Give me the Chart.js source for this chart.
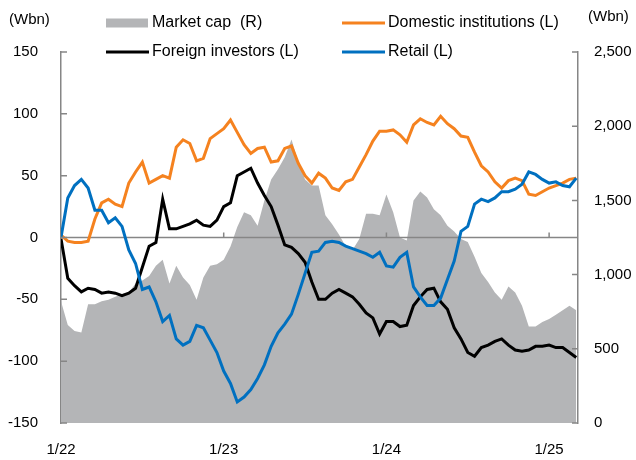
<!DOCTYPE html>
<html>
<head>
<meta charset="utf-8">
<script src="https://cdn.jsdelivr.net/npm/chart.js@4/dist/chart.umd.min.js"></script>
<style>
  body { margin: 0; background: #fff; }
  #wrap { width: 636px; height: 460px; }
</style>
</head>
<body>
<div id="wrap"><canvas id="chart" width="636" height="460"></canvas></div>
<script>
// Semi-monthly observations, Jan 2022 - Mar 2025 (1st and 16th of each month)
const dates = [];
for (let y = 2022; y <= 2025; y++) {
    for (let m = 1; m <= 12; m++) {
        if (y === 2025 && m > 3) break;
        dates.push(`${y}-${String(m).padStart(2, '0')}-01`);
        if (!(y === 2025 && m === 3)) dates.push(`${y}-${String(m).padStart(2, '0')}-16`);
    }
}

const xTickMonths = [0, 12, 24, 36];
const xTickLabels = ['1/22', '1/23', '1/24', '1/25'];

// Market cap (Wbn, right axis)
const marketCap = [
    820, 660, 620, 610, 800, 800, 820, 830, 850, 870, 880, 940,
    960, 990, 1060, 1100, 940, 1060, 980, 930, 830, 980, 1060, 1070,
    1100, 1190, 1320, 1420, 1400, 1330, 1500, 1640, 1710, 1790, 1910, 1760,
    1640, 1600, 1600, 1400, 1340, 1270, 1190, 1166, 1240, 1410, 1410, 1400,
    1540, 1420, 1250, 1230, 1500, 1560, 1520, 1440, 1400, 1330, 1290, 1240,
    1220, 1120, 1010, 950, 880, 830, 920, 880, 790, 650, 650, 680,
    700, 730, 760, 790, 760
];

// Net buying, cumulative (Wbn, left axis)
const domestic = [
    2, -3, -4, -4, -3, 15, 28, 31, 27, 25, 44, 53,
    61, 44, 47, 50, 48, 73, 79, 76, 62, 64, 80, 84,
    88, 95, 85, 75, 68, 72, 73, 61, 62, 72, 74, 60,
    50, 44, 52, 48, 40, 38, 45, 47, 57, 67, 78, 86,
    86, 87, 83, 77, 91, 96, 93, 91, 98, 92, 88, 82,
    81, 69, 58, 53, 45, 40, 46, 48, 46, 35, 34, 37,
    40, 42, 44, 47, 48
];

const foreign = [
    -1, -33, -39, -44, -41, -42, -45, -44, -45, -47, -45, -41,
    -24, -7, -4, 31, 7, 7, 9, 11, 14, 10, 9, 14,
    25, 28, 50, 53, 56, 44, 34, 25, 10, -6, -8, -13,
    -20, -36, -50, -50, -45, -42, -45, -48, -54, -61, -65, -78,
    -68, -68, -72, -71, -55, -48, -42, -41, -52, -58, -73, -82,
    -93, -96, -89, -87, -84, -82, -87, -91, -92, -91, -88, -88,
    -87, -89, -89, -93, -97
];

const retail = [
    0, 32, 42, 47, 40, 22, 22, 12, 16, 9, -10, -21,
    -42, -40, -52, -68, -63, -82, -87, -84, -71, -73, -83, -93,
    -108, -118, -133, -129, -123, -114, -103, -88, -77, -70, -62, -46,
    -29, -12, -11, -4, -3, -4, -7, -9, -11, -13, -16, -12,
    -23, -24, -16, -12, -40, -48, -55, -55, -49, -34, -19, 5,
    9, 27, 31, 29, 32, 37, 37, 39, 43, 53, 51, 47,
    44, 45, 42, 41, 48
];

function monthOffset(s) {
    const [y, m, d] = s.split('-').map(Number);
    return (y - 2022) * 12 + (m - 1) + (d - 1) / 30;
}

function toPoints(values) {
    return values.map((v, i) => ({ x: monthOffset(dates[i]), y: v }));
}

const fontFamily = "'Liberation Sans', Arial, sans-serif";
const tickFont = { family: fontFamily, size: 15 };
const axisGray = '#868686';

// Zero line and x ticks, drawn over the market cap area but under the lines
const zeroLinePlugin = {
    id: 'zeroLine',
    afterDatasetDraw(chart, args) {
        if (args.index !== 0) return;
        const ctx = chart.ctx;
        const area = chart.chartArea;
        const y0 = chart.scales.y.getPixelForValue(0);
        ctx.save();
        ctx.strokeStyle = axisGray;
        ctx.lineWidth = 1.5;
        ctx.beginPath();
        ctx.moveTo(area.left, y0);
        ctx.lineTo(area.right, y0);
        xTickMonths.slice(1).forEach(m => {
            const x = chart.scales.x.getPixelForValue(m);
            ctx.moveTo(x, y0);
            ctx.lineTo(x, y0 - 5);
        });
        ctx.stroke();
        ctx.restore();
    }
};

// Inward axis ticks, unit labels and the two-column legend
const decorPlugin = {
    id: 'decor',
    afterDraw(chart) {
        const ctx = chart.ctx;
        const area = chart.chartArea;
        ctx.save();
        ctx.strokeStyle = axisGray;
        ctx.lineWidth = 1.5;
        ctx.beginPath();
        chart.scales.y.ticks.forEach(t => {
            const y = chart.scales.y.getPixelForValue(t.value);
            ctx.moveTo(area.left, y);
            ctx.lineTo(area.left + 6, y);
        });
        chart.scales.y1.ticks.forEach(t => {
            const y = chart.scales.y1.getPixelForValue(t.value);
            ctx.moveTo(area.right, y);
            ctx.lineTo(area.right - 6, y);
        });
        ctx.stroke();

        ctx.fillStyle = '#000';
        ctx.font = `15px ${fontFamily}`;
        ctx.textBaseline = 'middle';
        ctx.textAlign = 'left';
        ctx.fillText('(Wbn)', 9, 20);
        ctx.fillText('(Wbn)', 588, 17);

        // legend: [column, row] for each dataset
        const cols = [106, 342];
        const rows = [23, 52];
        const slots = [[0, 0], [1, 0], [0, 1], [1, 1]];
        ctx.font = `16px ${fontFamily}`;
        chart.data.datasets.forEach((ds, i) => {
            const x = cols[slots[i][0]];
            const y = rows[slots[i][1]];
            if (ds.fill) {
                ctx.fillStyle = ds.backgroundColor;
                ctx.fillRect(x, y - 4.5, 42, 9);
            } else {
                ctx.strokeStyle = ds.borderColor;
                ctx.lineWidth = 3;
                ctx.beginPath();
                ctx.moveTo(x, y);
                ctx.lineTo(x + 43, y);
                ctx.stroke();
            }
            ctx.fillStyle = '#000';
            ctx.fillText(ds.label, x + 46, y);
        });
        ctx.restore();
    }
};

new Chart(document.getElementById('chart'), {
    type: 'line',
    data: {
        datasets: [
            {
                label: 'Market cap  (R)',
                data: toPoints(marketCap),
                yAxisID: 'y1',
                backgroundColor: '#b4b5b7',
                borderWidth: 0,
                fill: 'start',
                pointRadius: 0,
                order: 4
            },
            {
                label: 'Domestic institutions (L)',
                data: toPoints(domestic),
                yAxisID: 'y',
                borderColor: '#f5821f',
                borderWidth: 3,
                fill: false,
                pointRadius: 0,
                order: 3
            },
            {
                label: 'Foreign investors (L)',
                data: toPoints(foreign),
                yAxisID: 'y',
                borderColor: '#000000',
                borderWidth: 3,
                fill: false,
                pointRadius: 0,
                order: 2
            },
            {
                label: 'Retail (L)',
                data: toPoints(retail),
                yAxisID: 'y',
                borderColor: '#0070c0',
                borderWidth: 3,
                fill: false,
                pointRadius: 0,
                order: 1
            }
        ]
    },
    options: {
        responsive: false,
        animation: false,
        layout: { padding: { top: 52, left: 0, right: 0, bottom: 0 } },
        plugins: {
            legend: { display: false },
            tooltip: { enabled: false }
        },
        scales: {
            x: {
                type: 'linear',
                min: 0,
                max: 38.13,
                grid: { display: false, drawTicks: false },
                border: { display: false },
                afterBuildTicks: s => { s.ticks = xTickMonths.map(v => ({ value: v })); },
                ticks: {
                    autoSkip: false,
                    maxRotation: 0,
                    padding: 18,
                    color: '#000',
                    font: tickFont,
                    callback: (v, i) => xTickLabels[i]
                },
                afterFit: s => { s.height = 37; }
            },
            y: {
                position: 'left',
                min: -150,
                max: 150,
                grid: { display: false, drawTicks: false },
                border: { display: true, color: axisGray, width: 1.5 },
                ticks: { stepSize: 50, padding: 23, color: '#000', font: tickFont },
                afterFit: s => { s.width = 61; }
            },
            y1: {
                position: 'right',
                min: 0,
                max: 2500,
                grid: { display: false, drawTicks: false },
                border: { display: true, color: axisGray, width: 1.5 },
                ticks: {
                    stepSize: 500,
                    padding: 16,
                    color: '#000',
                    font: tickFont,
                    callback: v => v.toLocaleString('en-US')
                },
                afterFit: s => { s.width = 58; }
            }
        }
    },
    plugins: [zeroLinePlugin, decorPlugin]
});
</script>
</body>
</html>
